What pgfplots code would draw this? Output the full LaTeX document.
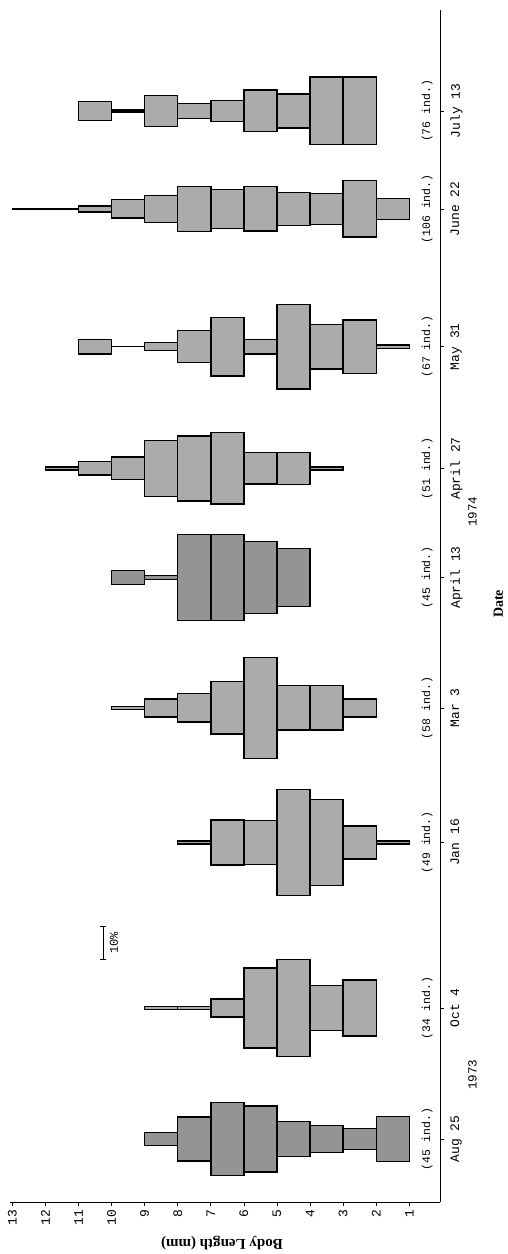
\documentclass[border=0pt]{standalone}
\usepackage{fontspec}
\setmainfont{Liberation Serif}
\setmonofont{Liberation Mono}
\usepackage{pgfplots}
\usepackage{pgfplotstable}
\pgfplotsset{compat=1.18}

\colorlet{kfill}{black!33}
\colorlet{kdark}{black!42}

% L = lower limit of the 1-mm length class, pct = percentage of individuals
\pgfplotstableread{
L pct
1 13.8
2 6.5
3 8.4
4 10.6
5 20.2
6 22.4
7 13.4
8 4.0
}\kAug
\pgfplotstableread{
L pct
2 17.2
3 13.8
4 29.6
5 24.4
6 5.4
7 1.0
8 1.0
}\kOct
\pgfplotstableread{
L pct
1 1.0
2 10.0
3 26.2
4 32.4
5 13.5
6 13.7
7 1.0
}\kJan
\pgfplotstableread{
L pct
2 5.6
3 13.6
4 13.6
5 30.8
6 16.0
7 8.7
8 5.6
9 0.9
}\kMar
\pgfplotstableread{
L pct
4 17.8
5 22.1
6 26.4
7 26.4
8 1.2
9 4.3
}\kAprA
\pgfplotstableread{
L pct
3 1.0
4 9.8
5 9.6
6 21.8
7 19.8
8 17.1
9 6.9
10 4.1
11 1.0
}\kAprB
\pgfplotstableread{
L pct
1 1.0
2 16.3
3 13.6
4 25.9
5 4.5
6 17.9
7 9.8
8 2.4
9 0.1
10 4.4
}\kMay
\pgfplotstableread{
L pct
1 6.5
2 17.2
3 9.4
4 10.2
5 13.6
6 12.0
7 13.7
8 8.2
9 5.6
10 1.8
11 0.2
12 0.3
}\kJun
\pgfplotstableread{
L pct
2 20.7
3 20.7
4 10.4
5 12.7
6 6.4
7 4.5
8 9.6
9 0.6
10 5.8
}\kJul

% one kite: #1 fill, #2 table, #3 centre on the date axis
\newcommand\kite[3][kfill]{%
  \pgfplotstablegetrowsof{#2}%
  \pgfmathtruncatemacro\kiteN{\pgfplotsretval-1}%
  \pgfplotsforeachungrouped \kr in {0,...,\kiteN}{%
    \pgfplotstablegetelem{\kr}{L}\of{#2}\let\kL\pgfplotsretval
    \pgfplotstablegetelem{\kr}{pct}\of{#2}\let\kP\pgfplotsretval
    \pgfmathsetmacro\kylo{#3-\kP/2}%
    \pgfmathsetmacro\kyhi{#3+\kP/2}%
    \pgfmathsetmacro\kLh{\kL+1}%
    \edef\kdo{\noexpand\addplot[draw=black, line width=1.4pt, fill=#1, line join=miter] coordinates {(\kL,\kylo) (\kLh,\kylo) (\kLh,\kyhi) (\kL,\kyhi)} -- cycle;}%
    \kdo
  }%
}

\newcommand\tfont[1]{\ttfamily\fontsize{#1}{#1}\selectfont}

\begin{document}
\begin{tikzpicture}
\begin{axis}[
  scale only axis, width=430pt, height=1192pt,
  x dir=reverse, xmin=0.072, xmax=13.072,
  ymin=0, ymax=364.5,
  axis x line=bottom, axis y line=right,
  axis line style={-, line width=0.9pt},
  tick align=outside, major tick length=4pt,
  tick style={line width=0.8pt, black},
  xtick={1,...,13},
  ytick={19.27,59.33,109.94,151.07,190.98,224.31,261.56,303.67,333.64},
  yticklabels={Aug 25, Oct 4, Jan 16, Mar 3, April 13, April 27, May 31, June 22, July 13},
  /pgf/number format/assume math mode=true,
  xticklabel style={rotate=90, anchor=east, font=\tfont{13}},
  yticklabel style={rotate=90, anchor=north, font=\tfont{13}},
  yticklabel shift=3pt,
  clip=false,
  xlabel={Body Length (mm)},
  xlabel style={at={(axis description cs:0.493,-0.0344)}, anchor=center, rotate=180, font=\bfseries\fontsize{15}{15}\selectfont},
  ylabel={Date},
  ylabel style={at={(axis description cs:1.136,0.5017)}, anchor=center, font=\bfseries\fontsize{14}{14}\selectfont},
]
\kite[kdark]{\kAug}{19.27}
\kite{\kOct}{59.33}
\kite{\kJan}{109.94}
\kite{\kMar}{151.07}
\kite[kdark]{\kAprA}{190.98}
\kite{\kAprB}{224.31}
\kite{\kMay}{261.56}
\kite{\kJun}{303.67}
\kite{\kJul}{333.64}

\node[rotate=90, font=\tfont{11.5}] at (axis cs:0.46,19.27) {(45 ind.)};
\node[rotate=90, font=\tfont{11.5}] at (axis cs:0.46,59.33) {(34 ind.)};
\node[rotate=90, font=\tfont{11.5}] at (axis cs:0.46,109.94) {(49 ind.)};
\node[rotate=90, font=\tfont{11.5}] at (axis cs:0.46,151.07) {(58 ind.)};
\node[rotate=90, font=\tfont{11.5}] at (axis cs:0.46,190.98) {(45 ind.)};
\node[rotate=90, font=\tfont{11.5}] at (axis cs:0.46,224.31) {(51 ind.)};
\node[rotate=90, font=\tfont{11.5}] at (axis cs:0.46,261.56) {(67 ind.)};
\node[rotate=90, font=\tfont{11.5}] at (axis cs:0.46,303.67) {(106 ind.)};
\node[rotate=90, font=\tfont{11.5}] at (axis cs:0.46,333.64) {(76 ind.)};

\node[rotate=90, font=\tfont{12.5}] at (axis cs:-0.91,38.84) {1973};
\node[rotate=90, font=\tfont{12.5}] at (axis cs:-0.91,211.0) {1974};

% 10 % scale bar
\draw[line width=0.9pt] (axis cs:10.26,74.2) -- (axis cs:10.26,84.2);
\draw[line width=0.9pt] (axis cs:10.35,74.2) -- (axis cs:10.17,74.2);
\draw[line width=0.9pt] (axis cs:10.35,84.2) -- (axis cs:10.17,84.2);
\node[rotate=90, font=\tfont{12}] at (axis cs:9.93,79.2) {10\%};
\end{axis}
\pgfresetboundingbox
\path (-10pt,-52pt) rectangle (498pt,1202pt);
\end{tikzpicture}
\end{document}
